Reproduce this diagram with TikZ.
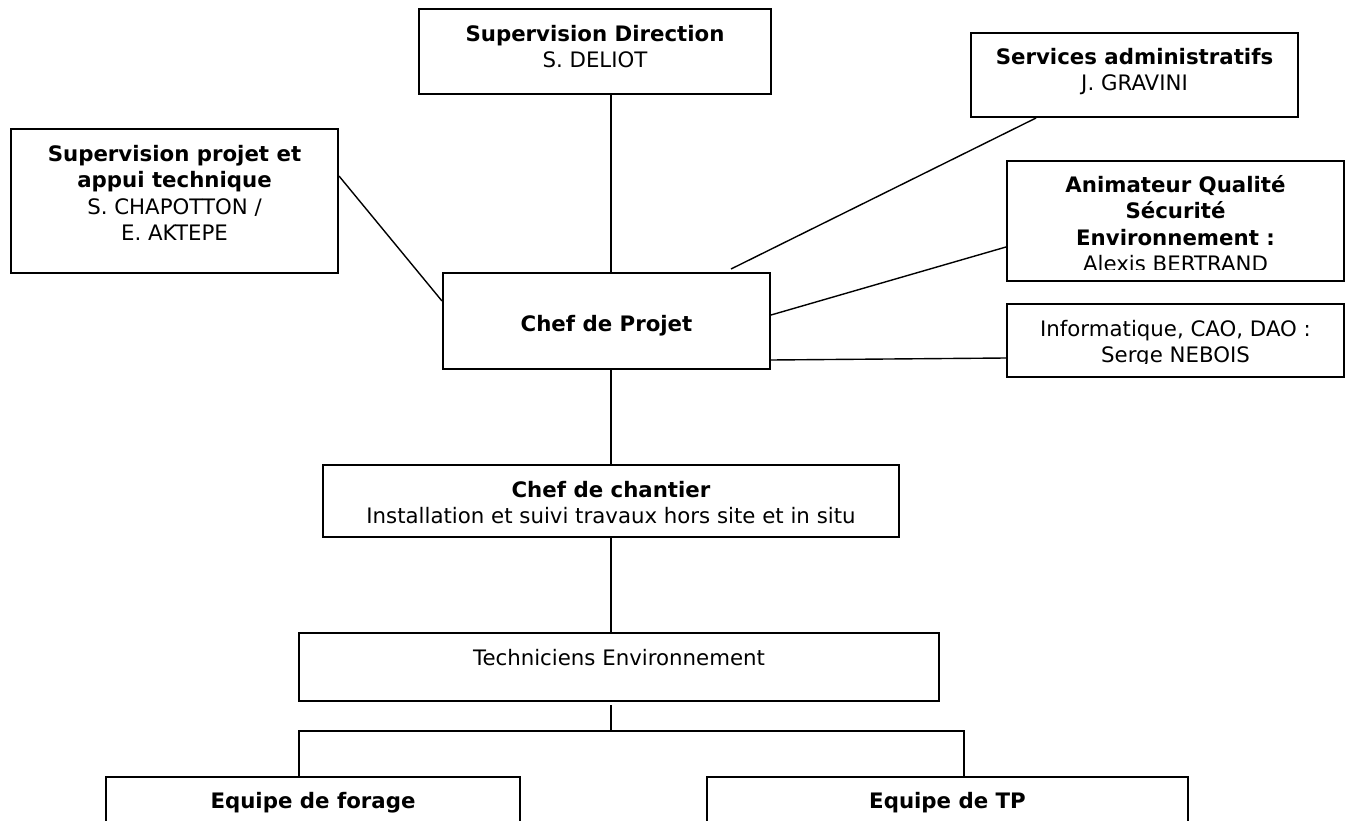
\documentclass[tikz,border=0pt]{standalone}
\usepackage{fontspec}
\setmainfont{DejaVu Sans}
\newcommand{\firstst}{\rule{0pt}{20pt}}
\begin{document}
\begin{tikzpicture}[x=1pt,y=-1pt,
  box/.style={draw, line width=2pt, inner sep=0pt, rectangle},
  txt/.style={inner sep=0pt, align=center, anchor=north, font=\fontsize{21.3}{26.5}\selectfont},
  link/.style={line width=1.4pt}]
\useasboundingbox (0,0) rectangle (1351,821);
% boxes
\node[box, minimum width=352pt, minimum height=85pt] (SD) at (595,51.5) {};
\node[box, minimum width=327pt, minimum height=144pt] (SP) at (174.5,201) {};
\node[box, minimum width=327pt, minimum height=84pt] (SA) at (1134.5,75) {};
\node[box, minimum width=337pt, minimum height=120pt] (AQ) at (1175.5,221) {};
\node[box, minimum width=337pt, minimum height=73pt] (INF) at (1175.5,340.5) {};
\node[box, minimum width=327pt, minimum height=96pt] (CP) at (606.5,321) {};
\node[box, minimum width=576pt, minimum height=72pt] (CC) at (611,501) {};
\node[box, minimum width=640pt, minimum height=68pt] (TE) at (619,667) {};
\node[box, minimum width=414pt, minimum height=93pt] (EF) at (313,823.5) {};
\node[box, minimum width=481pt, minimum height=93pt] (ET) at (947.5,823.5) {};
% texts
\node[txt] (tSD) at (595,21) {\firstst\textbf{Supervision Direction}\\S. DELIOT};
\node[txt] (tSP) at (174.5,141) {\firstst\textbf{Supervision projet et}\\\textbf{appui technique}\\S. CHAPOTTON /\\E. AKTEPE};
\node[txt] (tSA) at (1134.5,44) {\firstst\textbf{Services administratifs}\\J. GRAVINI};
\begin{scope}
\clip (1007,161) rectangle (1344,269.5);
\node[txt] (tAQ) at (1175.5,172) {\firstst\textbf{Animateur Qualité}\\\textbf{Sécurité}\\\textbf{Environnement :}\\Alexis BERTRAND};
\end{scope}
\begin{scope}
\clip (1007,304) rectangle (1344,363.5);
\node[txt] (tINF) at (1175.5,316) {\firstst Informatique, CAO, DAO :\\Serge NEBOIS};
\end{scope}
\node[txt] (tCP) at (606.5,311) {\firstst\textbf{Chef de Projet}};
\node[txt] (tCC) at (611,477) {\firstst\textbf{Chef de chantier}\\Installation et suivi travaux hors site et in situ};
\node[txt] (tTE) at (619,645) {\firstst Techniciens Environnement};
\node[txt] (tEF) at (313,788) {\firstst\textbf{Equipe de forage}};
\node[txt] (tET) at (947.5,788) {\firstst\textbf{Equipe de TP}};
% connectors
\draw[link] (SD.south -| CC.north) -- (CP.north -| CC.north);
\draw[link] (CP.south -| CC.north) -- (CC.north);
\draw[link] (CC.south) -- (TE.north -| CC.south);
\draw[link] ([yshift=-48pt]SP.north east) -- ([yshift=-29pt]CP.north west);
\draw[link] ([xshift=-98.5pt]SA.south) -- ([xshift=124.5pt,yshift=3pt]CP.north);
\draw[link] ([yshift=-43pt]CP.north east) -- ([yshift=-87pt]AQ.north west);
\draw[link] ([yshift=-88pt]CP.north east) -- ([yshift=-55pt]INF.north west);
\coordinate (split) at (611,731);
\coordinate (hl) at (299,731);
\coordinate (hr) at (964,731);
\draw[link] ([yshift=-3pt]TE.south -| split) -- (split);
\draw[link] (EF.north -| hl) -- (hl) -- (hr) -- ([yshift=-2pt]ET.north -| hr);
\end{tikzpicture}
\end{document}
